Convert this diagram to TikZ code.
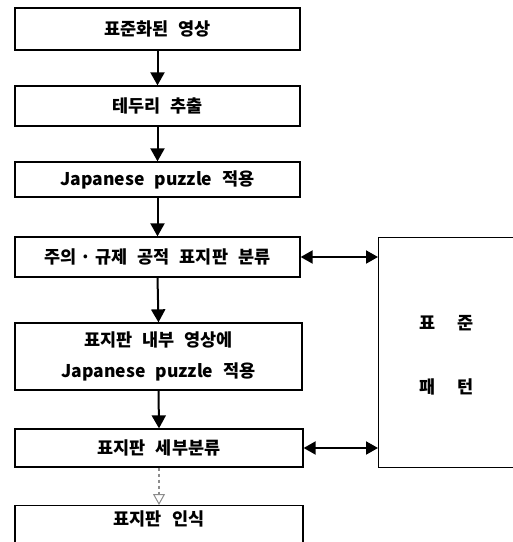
\documentclass[tikz,border=0pt]{standalone}
\usepackage{fontspec}
\setmainfont{Noto Sans CJK KR}
\usetikzlibrary{arrows.meta}
\newcommand\wordgap{\spaceskip=10pt plus 1pt minus 1pt\relax}
\begin{document}
\begin{tikzpicture}[x=1pt,y=-1pt,
  lbl/.style={font=\fontsize{17.5}{22}\selectfont\bfseries\wordgap},
  flowbox/.style={draw,line width=1.3pt,inner sep=0pt,lbl},
  flowarrow/.style={line width=2pt,-{Triangle[length=13pt,width=14pt]}},
  lightarrow/.style={line width=1.2pt,draw=black!45,dashed,-{Triangle[open,length=11pt,width=12pt,line width=1pt]}},
  bothway/.style={line width=2pt,{Triangle[length=12pt,width=13pt]}-{Triangle[length=12pt,width=13pt]}}]
\useasboundingbox (0,0) rectangle (513,542);
\clip (0,0) rectangle (513,542);
\node[flowbox,minimum width=285pt,minimum height=42pt] (b1) at (157.5,29) {표준화된 영상};
\node[flowbox,minimum width=285pt,minimum height=40pt] (b2) at (157.5,106) {테두리 추출};
\node[flowbox,minimum width=285pt,minimum height=35pt] (b3) at (157.5,179.5) {Japanese puzzle 적용};
\node[flowbox,minimum width=285pt,minimum height=40pt] (b4) at (157.5,257) {주의\hspace{4pt}·\hspace{4pt}규제 공적 표지판 분류};
\node[flowbox,minimum width=287pt,minimum height=67pt,align=center,font=\fontsize{17.5}{31}\selectfont\bfseries\wordgap] (b5) at (158.5,356.5) {표지판 내부 영상에\\Japanese puzzle 적용};
\node[flowbox,minimum width=288pt,minimum height=38pt] (b6) at (159,448) {표지판 세부분류};
\node[flowbox,minimum width=288pt,minimum height=56pt,anchor=north] (b7) at (159,505) {};
\node[lbl] (t7) at (159,519) {표지판 인식};
\node[flowbox,minimum width=160pt,minimum height=230pt,anchor=north west] (sp) at (378,237) {};
\node[lbl] (sp1) at (447,323) {표\hspace{22pt}준};
\node[lbl] (sp2) at (447,387) {패\hspace{22pt}턴};
\draw[flowarrow] (b1.south) -- (b2.north);
\draw[flowarrow] (b2.south) -- (b3.north);
\draw[flowarrow] (b3.south) -- (b4.north);
\draw[flowarrow] (b4.south) -- (b5.north);
\draw[flowarrow] (b5.south) -- (b6.north);
\draw[lightarrow] (b6.south) -- (b7.north);
\draw[bothway] (b4.east) -- (b4.east -| sp.west);
\draw[bothway] (b6.east) -- (b6.east -| sp.west);
\end{tikzpicture}
\end{document}
